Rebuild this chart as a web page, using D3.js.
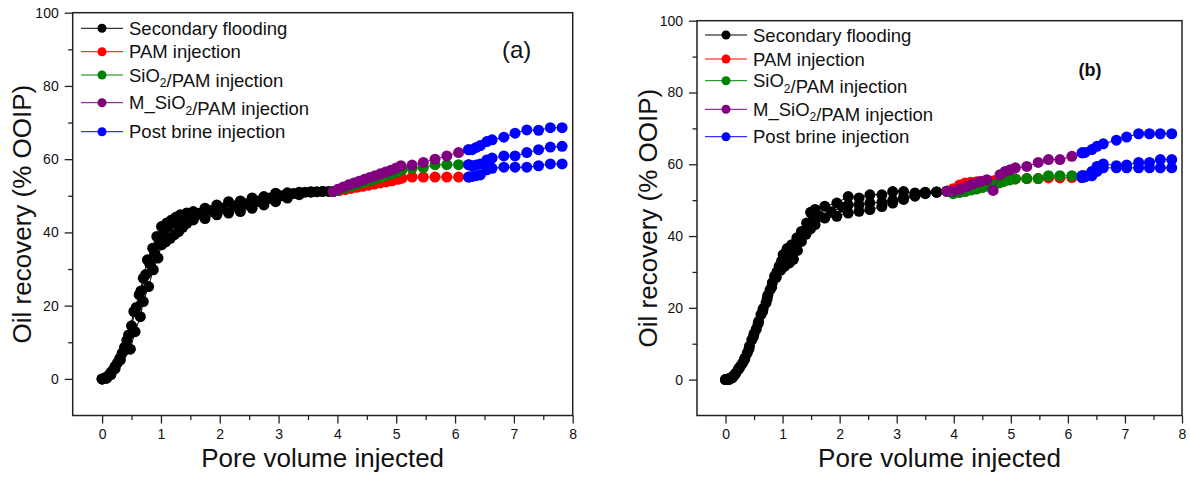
<!DOCTYPE html>
<html>
<head>
<meta charset="utf-8">
<script src="https://cdn.jsdelivr.net/npm/d3@7"></script>
<style>
  html, body { margin: 0; padding: 0; background: #fff; }
  svg { display: block; font-family: "Liberation Sans", Arial, Helvetica, sans-serif; }
</style>
</head>
<body>
<svg id="chart" width="1190" height="479"></svg>
<script>
// ---------------- DATA ----------------
const seriesNames = ["Secondary flooding", "PAM injection", "SiO2/PAM injection", "M_SiO2/PAM injection", "Post brine injection"];
const seriesColors = ["#000000", "#ff0000", "#008000", "#800080", "#0000ff"];
const xTicks = [0, 1, 2, 3, 4, 5, 6, 7, 8];
const xMinorTicks = [0.5, 1.5, 2.5, 3.5, 4.5, 5.5, 6.5, 7.5];
const yTicks = [0, 20, 40, 60, 80, 100];
const yMinorTicks = [10, 30, 50, 70, 90];
const panelLabels = ["(a)", "(b)"];

// Panel (a)
const a_secondary1 = [[0,0],[0.05,0.3],[0.1,0.8],[0.15,1.8],[0.22,3.4],[0.3,5.6],[0.38,8.6],[0.45,12],[0.54,18.4],[0.63,23],[0.7,27.5],[0.77,32.5],[0.86,35.7],[0.93,38.9],[1.01,41.6],[1.1,42.6],[1.18,43.4],[1.26,44.2],[1.33,44.8],[1.44,45.3],[1.55,45.7],[1.75,46.6],[1.95,47.5],[2.15,48.4],[2.35,48.6],[2.55,49.4],[2.75,49.8],[2.95,50.7],[3.15,50.8],[3.35,51],[3.55,51.1],[3.75,51.2],[3.93,51.2]];
const a_secondary2 = [[0,0],[0.08,0.2],[0.15,1.2],[0.22,2.8],[0.31,5.2],[0.39,7.9],[0.48,8.1],[0.56,12.9],[0.65,17],[0.7,21.1],[0.79,25.2],[0.87,29.8],[0.95,33],[1.01,36.6],[1.08,37.4],[1.16,38.4],[1.23,39.4],[1.3,40.2],[1.37,41.4],[1.44,42.5],[1.55,43.4],[1.75,43.8],[1.95,44.8],[2.15,45.3],[2.35,45.7],[2.55,46.6],[2.75,47.5],[2.95,48.4],[3.15,49.4],[3.35,50.3],[3.55,51],[3.75,51.2],[3.93,51.2]];
const a_secondary3 = [[0,0],[0.06,0.2],[0.12,1],[0.19,2.5],[0.26,4.4],[0.34,7],[0.42,10.5],[0.5,14.5],[0.58,19.5],[0.66,24],[0.74,28.5],[0.81,31.5],[0.89,34.5],[0.97,37.5],[1.05,40],[1.12,41.6],[1.2,42.5],[1.27,43],[1.35,43.6],[1.42,44],[1.5,44.4],[1.65,45.2],[1.85,46],[2.05,46.6],[2.25,47.2],[2.45,47.8],[2.65,48.6],[2.85,49.4],[3.05,50],[3.25,50.6],[3.45,51],[3.65,51.1],[3.85,51.2]];
const a_pam = [[3.93,51.2],[4.03,51.4],[4.13,51.7],[4.23,52],[4.33,52.3],[4.43,52.6],[4.53,52.9],[4.63,53.2],[4.73,53.5],[4.83,53.8],[4.93,54.1],[5.03,54.5],[5.1,54.8],[5.27,55.1],[5.46,55.1],[5.66,55.1],[5.86,55.1],[6.06,55.1],[6.23,55.1]];
const a_sio2pam = [[3.93,51.2],[4.03,51.6],[4.13,52.1],[4.23,52.6],[4.33,53.1],[4.43,53.5],[4.53,54],[4.63,54.5],[4.73,55],[4.83,55.5],[4.93,56],[5.03,56.6],[5.1,57.2],[5.27,57.5],[5.46,57.7],[5.66,58.5],[5.86,58.5],[6.06,58.5],[6.23,58.5]];
const a_msio2pam = [[3.93,51.2],[4.01,51.8],[4.1,52.4],[4.19,53],[4.28,53.5],[4.37,54],[4.46,54.5],[4.55,55],[4.64,55.5],[4.73,56],[4.82,56.5],[4.91,57],[5.0,57.6],[5.08,58.2],[5.27,58.4],[5.46,59.1],[5.66,60],[5.86,60.9],[6.06,61.8],[6.23,62.6]];
const a_brine1 = [[6.23,62.6],[6.29,62.6],[6.36,63.2],[6.43,63.7],[6.54,64.8],[6.63,65.3],[6.83,66],[7.02,67.1],[7.22,68],[7.42,67.9],[7.62,68.6],[7.82,68.6]];
const a_brine2 = [[6.23,58.5],[6.29,58.2],[6.36,58.4],[6.43,58.7],[6.54,59.8],[6.63,60.3],[6.83,60.9],[7.02,60.9],[7.22,61.8],[7.42,62.6],[7.62,63.3],[7.82,63.5]];
const a_brine3 = [[6.23,55.1],[6.29,55.3],[6.36,55.5],[6.43,55.7],[6.54,57.1],[6.63,57.5],[6.83,57.8],[7.02,57.8],[7.22,57.8],[7.42,58.2],[7.62,58.7],[7.82,58.7]];

// Panel (b)
const b_secondary1 = [[0,0],[0.06,0],[0.12,0.5],[0.18,1.8],[0.22,2.8],[0.3,4.6],[0.38,7.4],[0.46,11.1],[0.54,14.1],[0.62,18.1],[0.71,21.4],[0.78,25],[0.86,28.8],[0.94,31.6],[1.01,34.8],[1.08,36.5],[1.16,37.6],[1.25,39.5],[1.33,41.3],[1.42,43.6],[1.49,46.6],[1.57,47.4],[1.74,48.3],[1.95,49.2],[2.15,51],[2.34,50.6],[2.53,51.5],[2.74,51.5],[2.93,52.4],[3.12,52.4],[3.32,52],[3.5,52.2],[3.7,52.3],[3.88,52.5]];
const b_secondary2 = [[0,0],[0.04,0.2],[0.1,0.6],[0.17,1.5],[0.26,3.7],[0.34,6],[0.42,9.3],[0.5,12.8],[0.58,16.2],[0.66,19.8],[0.74,23.5],[0.82,27],[0.9,30],[0.98,33],[1.06,35.5],[1.13,35.3],[1.2,37],[1.29,39],[1.37,40.5],[1.45,42],[1.53,44],[1.65,45.5],[1.85,46.8],[2.05,48],[2.15,48.7],[2.34,48.7],[2.53,49.2],[2.74,49.4],[2.93,50],[3.12,50.8],[3.32,51.5],[3.5,52],[3.7,52.3],[3.88,52.5]];
const b_secondary3 = [[0,0],[0.08,0.3],[0.15,1.2],[0.24,3.2],[0.33,5.5],[0.41,8.5],[0.49,12],[0.57,15.5],[0.65,19],[0.73,22.5],[0.81,25.8],[0.89,28.5],[0.97,30.5],[1.04,31.6],[1.12,32.5],[1.19,33.5],[1.26,36],[1.33,38.5],[1.41,40.5],[1.49,42],[1.57,43.2],[1.74,45],[1.95,45.5],[2.15,46.4],[2.34,46.9],[2.53,47.4],[2.74,48.2],[2.93,49.2],[3.12,50.2],[3.32,51.1],[3.5,51.8],[3.7,52.2],[3.88,52.5]];
const b_pam = [[3.88,52.5],[3.99,53.2],[4.1,54.2],[4.2,54.8],[4.3,55],[4.4,55.1],[4.5,55.2],[4.6,55.3],[4.7,55.4],[4.8,55.5],[4.9,55.6],[5.0,55.8],[5.08,55.9],[5.28,56],[5.48,56],[5.66,56.2],[5.86,56.2],[6.07,56.3],[6.25,56.3]];
const b_sio2pam = [[3.88,52.5],[3.99,51.8],[4.1,52.1],[4.2,52.4],[4.3,52.8],[4.4,53.1],[4.5,53.5],[4.6,53.9],[4.7,54.3],[4.8,54.8],[4.87,55.2],[4.97,55.6],[5.08,55.9],[5.28,56],[5.48,56],[5.66,56.8],[5.86,56.8],[6.07,56.8],[6.25,56.8]];
const b_msio2pam = [[3.88,52.5],[3.99,52.5],[4.11,53.1],[4.23,53.8],[4.34,54.6],[4.46,55.2],[4.58,55.7],[4.69,52.7],[4.81,57.1],[4.9,58],[4.99,58.5],[5.08,59],[5.28,59.4],[5.48,60.5],[5.66,61.3],[5.86,61.3],[6.07,62.2],[6.25,63.2]];
const b_brine1 = [[6.25,63.2],[6.3,63.3],[6.42,64.1],[6.51,65],[6.62,65.7],[6.85,66.7],[7.03,67.6],[7.24,68.5],[7.43,68.5],[7.62,68.5],[7.82,68.5]];
const b_brine2 = [[6.25,56.8],[6.3,56.8],[6.42,58],[6.51,59.4],[6.62,60.1],[6.85,59.6],[7.03,59.8],[7.24,60.5],[7.43,60.5],[7.62,61.3],[7.82,61.3]];
const b_brine3 = [[6.25,56.3],[6.3,56.5],[6.42,56.8],[6.51,58],[6.62,59],[6.85,59],[7.03,59],[7.24,59],[7.43,59],[7.62,59],[7.82,59]];

// ---------------- LAYOUT ----------------
const panels = [
  { left: 72.7, right: 572.7, top: 12.7, bottom: 415.5,
    series: [[a_secondary1,0],[a_secondary2,0],[a_secondary3,0],[a_pam,1],[a_sio2pam,2],[a_msio2pam,3],[a_brine1,4],[a_brine2,4],[a_brine3,4]],
    legendX: 81, legendRows: [28.3, 51.7, 75, 102.7, 131.7],
    label: { x: 502, y: 58, size: 24, weight: "normal", anchor: "start" },
    yTitleX: 31 },
  { left: 697, right: 1182, top: 20.7, bottom: 415.5,
    series: [[b_secondary1,0],[b_secondary2,0],[b_secondary3,0],[b_pam,1],[b_sio2pam,2],[b_msio2pam,3],[b_brine1,4],[b_brine2,4],[b_brine3,4]],
    legendX: 705, legendRows: [35, 59, 80.7, 109.3, 136.7],
    label: { x: 1090, y: 76, size: 18, weight: "bold", anchor: "middle" },
    yTitleX: 657 }
];

const svg = d3.select("#chart");
const frameColor = "#222";

function addName(sel, name, size) {
  // renders "SiO2" with subscript 2
  const parts = name.split("SiO2");
  sel.text(null);
  parts.forEach((p, i) => {
    if (i > 0) {
      sel.append("tspan").text("SiO");
      sel.append("tspan").attr("dy", size * 0.3).attr("font-size", size * 0.65).text("2");
      sel.append("tspan").attr("dy", -size * 0.3).text("");
    }
    if (p.length) sel.append("tspan").text(p);
  });
}

panels.forEach((P, pi) => {
  const x = d3.scaleLinear().domain([-0.5, 8]).range([P.left, P.right]);
  const y = d3.scaleLinear().domain([-10, 100]).range([P.bottom, P.top]);
  const g = svg.append("g");

  // axes
  const xAxis = g.append("g").attr("transform", `translate(0,${P.bottom})`)
    .call(d3.axisBottom(x).tickValues(xTicks).tickSizeInner(8).tickSizeOuter(0).tickPadding(6).tickFormat(d3.format("d")));
  const xMinor = g.append("g").attr("transform", `translate(0,${P.bottom})`)
    .call(d3.axisBottom(x).tickValues(xMinorTicks).tickSizeInner(4.5).tickSizeOuter(0).tickFormat(""));
  const yAxis = g.append("g").attr("transform", `translate(${P.left},0)`)
    .call(d3.axisLeft(y).tickValues(yTicks).tickSizeInner(8).tickSizeOuter(0).tickPadding(6).tickFormat(d3.format("d")));
  const yMinor = g.append("g").attr("transform", `translate(${P.left},0)`)
    .call(d3.axisLeft(y).tickValues(yMinorTicks).tickSizeInner(4.5).tickSizeOuter(0).tickFormat(""));
  [xAxis, xMinor, yAxis, yMinor].forEach(a => {
    a.select(".domain").remove();
    a.selectAll("line").attr("stroke", frameColor).attr("stroke-width", 1.3);
    a.selectAll("text").attr("font-size", 14).attr("fill", "#111")
      .attr("font-family", "'Liberation Sans', Arial, sans-serif");
  });

  // frame
  g.append("rect").attr("x", P.left).attr("y", P.top)
    .attr("width", P.right - P.left).attr("height", P.bottom - P.top)
    .attr("fill", "none").attr("stroke", frameColor).attr("stroke-width", 1.5);

  // axis titles
  g.append("text").attr("x", (P.left + P.right) / 2).attr("y", 467)
    .attr("text-anchor", "middle").attr("font-size", 26).attr("fill", "#111")
    .text("Pore volume injected");
  g.append("text")
    .attr("transform", `translate(${P.yTitleX},${(P.top + P.bottom) / 2}) rotate(-90)`)
    .attr("text-anchor", "middle").attr("font-size", 26).attr("fill", "#111")
    .text("Oil recovery (% OOIP)");

  // series
  const line = d3.line().x(d => x(d[0])).y(d => y(d[1]));
  const plot = g.append("g");
  P.series.forEach(([data, ci]) => {
    plot.append("path").datum(data).attr("d", line)
      .attr("fill", "none").attr("stroke", seriesColors[ci]).attr("stroke-width", 1);
    plot.selectAll(null).data(data).enter().append("circle")
      .attr("cx", d => x(d[0])).attr("cy", d => y(d[1])).attr("r", 5.5)
      .attr("fill", seriesColors[ci]);
  });

  // legend
  const lg = g.append("g");
  seriesNames.forEach((name, i) => {
    const ry = P.legendRows[i];
    lg.append("line").attr("x1", P.legendX).attr("x2", P.legendX + 42)
      .attr("y1", ry).attr("y2", ry).attr("stroke", seriesColors[i]).attr("stroke-width", 1);
    lg.append("circle").attr("cx", P.legendX + 21).attr("cy", ry).attr("r", 4.5).attr("fill", seriesColors[i]);
    const t = lg.append("text").attr("x", P.legendX + 48).attr("y", ry + 6.5)
      .attr("font-size", 18.5).attr("fill", "#111");
    addName(t, name, 18.5);
  });

  // panel label
  g.append("text").attr("x", P.label.x).attr("y", P.label.y)
    .attr("text-anchor", P.label.anchor).attr("font-size", P.label.size)
    .attr("font-weight", P.label.weight).attr("fill", "#111").text(panelLabels[pi]);
});
</script>
</body>
</html>
